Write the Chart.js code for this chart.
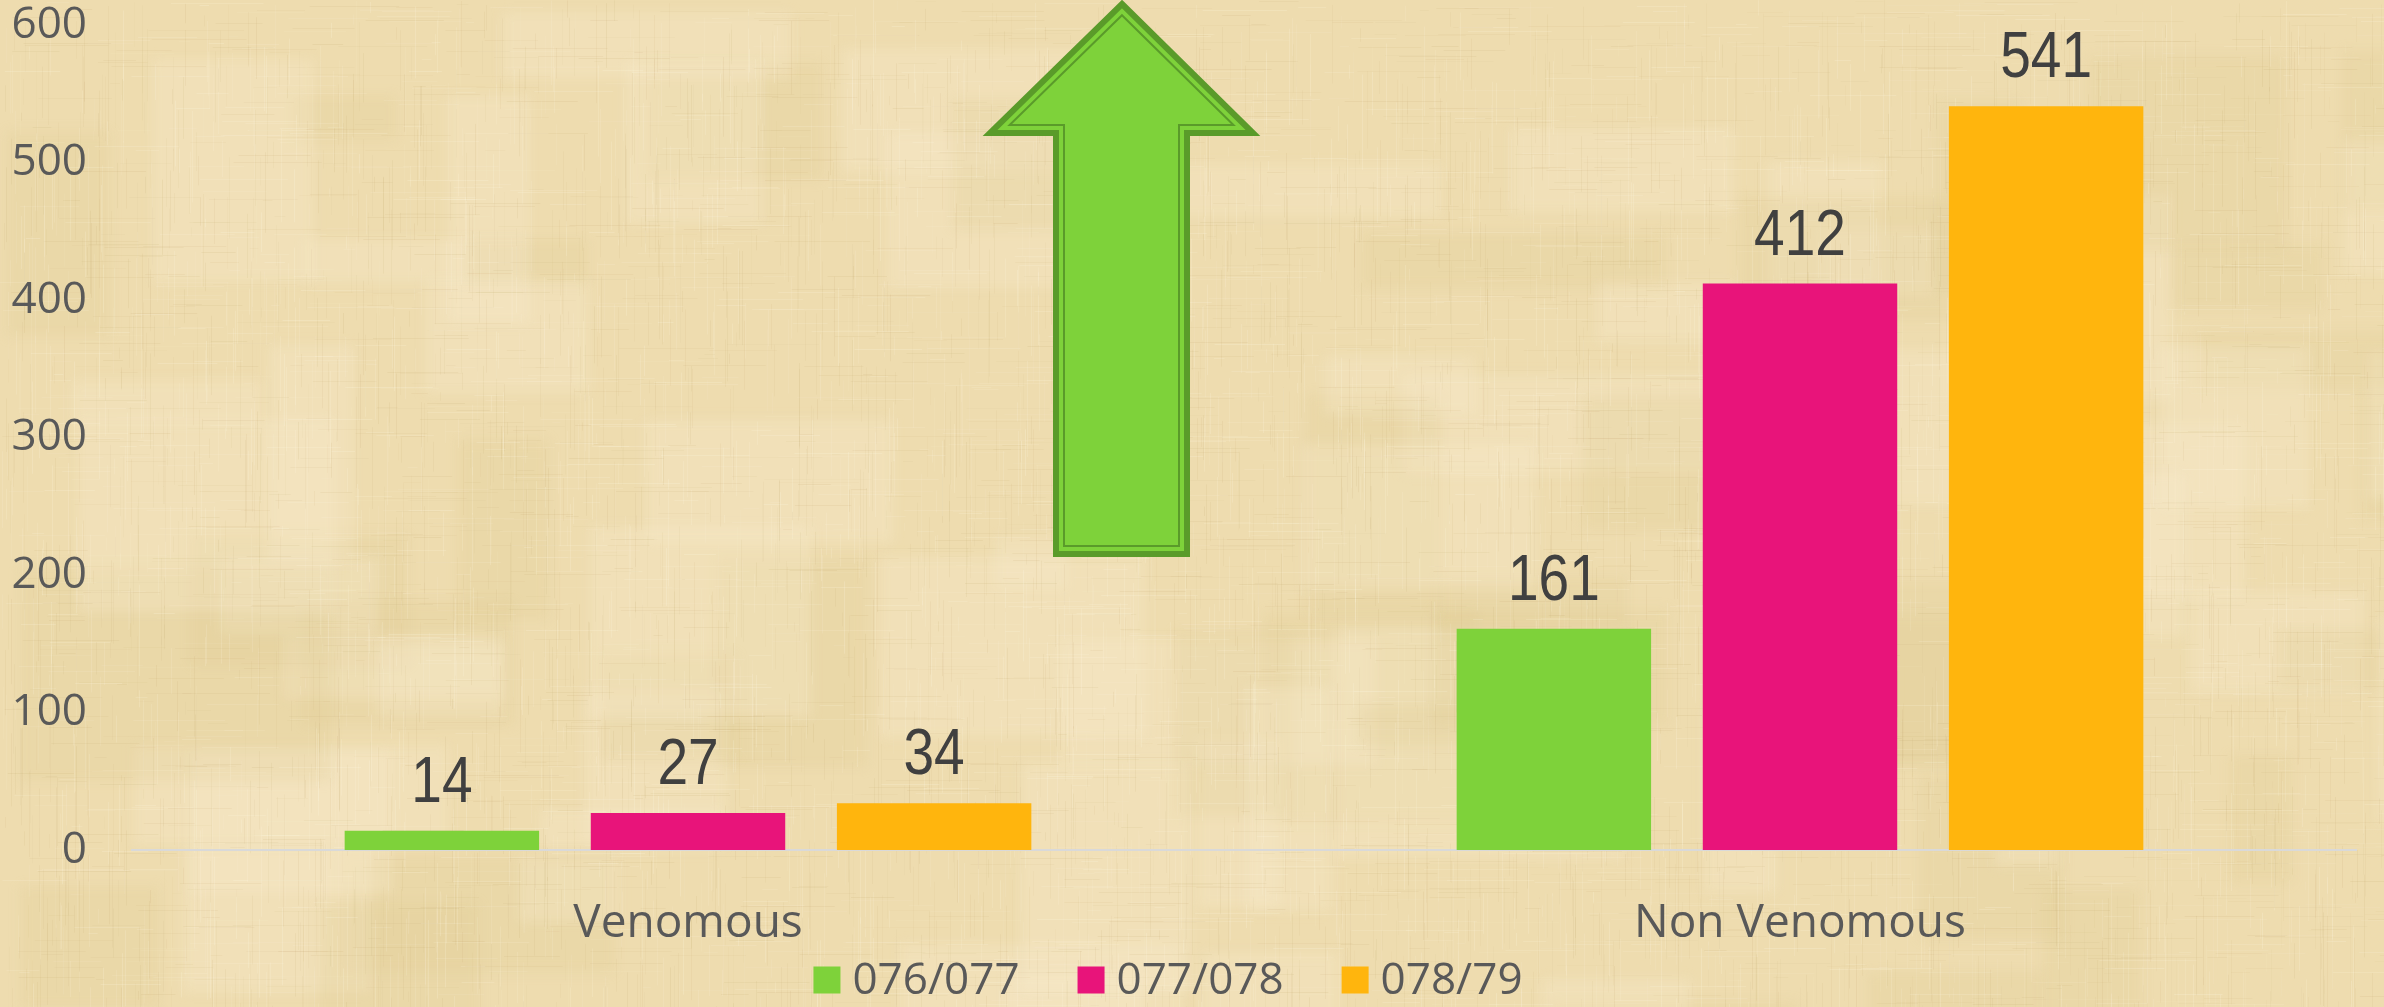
<!DOCTYPE html>
<html>
<head>
<meta charset="utf-8">
<title>Snake bite cases</title>
<script src="https://cdn.jsdelivr.net/npm/chart.js@4.4.1/dist/chart.umd.min.js"></script>
<style>
  html, body { margin: 0; padding: 0; background: #eddbae; }
  #wrap { width: 2384px; height: 1007px; }
</style>
</head>
<body>
<div id="wrap"><canvas id="chart" width="2384" height="1007"></canvas></div>
<script>
const categories = ['Venomous', 'Non Venomous'];
const seasons = ['076/077', '077/078', '078/79'];
const cases076 = [14, 161];
const cases077 = [27, 412];
const cases078 = [34, 541];
const seasonColors = ['#7ed23a', '#e8147a', '#ffb50d'];
const yTicks = [0, 100, 200, 300, 400, 500, 600];

const axisFont = "'Open Sans', 'Noto Sans', sans-serif";
const labelFont = "'Liberation Sans', sans-serif";

// papyrus-like backdrop, generated once with a seeded generator
function mulberry32(a) {
    return function() {
        a |= 0; a = a + 0x6D2B79F5 | 0;
        let t = Math.imul(a ^ a >>> 15, 1 | a);
        t = t + Math.imul(t ^ t >>> 7, 61 | t) ^ t;
        return ((t ^ t >>> 14) >>> 0) / 4294967296;
    };
}

function makePaper(w, h) {
    const c = document.createElement('canvas');
    c.width = w; c.height = h;
    const g = c.getContext('2d');
    const rnd = mulberry32(11);
    g.fillStyle = '#eedcaf';
    g.fillRect(0, 0, w, h);

    // soft tile-like patches
    g.filter = 'blur(6px)';
    for (let i = 0; i < 90; i++) {
        const light = rnd() < 0.5;
        g.fillStyle = light ? 'rgba(247,236,206,0.30)' : 'rgba(222,198,140,0.20)';
        g.fillRect(rnd() * w, rnd() * h, 60 + rnd() * 260, 40 + rnd() * 200);
    }
    g.filter = 'none';

    // fine fibres, mostly vertical
    for (let i = 0; i < 9000; i++) {
        const x = rnd() * w, y = rnd() * h;
        const len = 8 + rnd() * 90;
        const dark = rnd() < 0.5;
        g.strokeStyle = dark
            ? 'rgba(185,155,95,' + (0.03 + rnd() * 0.08).toFixed(3) + ')'
            : 'rgba(255,248,228,' + (0.05 + rnd() * 0.15).toFixed(3) + ')';
        g.lineWidth = 1;
        g.beginPath();
        if (rnd() < 0.6) {
            g.moveTo(Math.round(x) + 0.5, y); g.lineTo(Math.round(x) + 0.5, y + len);
        } else {
            g.moveTo(x, Math.round(y) + 0.5); g.lineTo(x + len, Math.round(y) + 0.5);
        }
        g.stroke();
    }
    return c;
}

let paper = null;
const paperBackground = {
    id: 'paperBackground',
    beforeDraw(chart) {
        if (!paper) paper = makePaper(chart.width, chart.height);
        chart.ctx.drawImage(paper, 0, 0);
    }
};

// inward offset of a polygon (miter joins)
function insetPolygon(pts, d) {
    let area = 0;
    for (let i = 0; i < pts.length; i++) {
        const a = pts[i], b = pts[(i + 1) % pts.length];
        area += a[0] * b[1] - b[0] * a[1];
    }
    const s = area > 0 ? 1 : -1;
    const lines = pts.map((a, i) => {
        const b = pts[(i + 1) % pts.length];
        const dx = b[0] - a[0], dy = b[1] - a[1];
        const L = Math.hypot(dx, dy);
        const nx = -dy / L * s, ny = dx / L * s;
        return [[a[0] + nx * d, a[1] + ny * d], [dx, dy]];
    });
    return lines.map((l2, i) => {
        const l1 = lines[(i - 1 + lines.length) % lines.length];
        const [p, r] = l1, [q, t] = l2;
        const cross = r[0] * t[1] - r[1] * t[0];
        const u = ((q[0] - p[0]) * t[1] - (q[1] - p[1]) * t[0]) / cross;
        return [p[0] + r[0] * u, p[1] + r[1] * u];
    });
}

function tracePolygon(ctx, pts) {
    ctx.beginPath();
    pts.forEach((p, i) => i ? ctx.lineTo(p[0], p[1]) : ctx.moveTo(p[0], p[1]));
    ctx.closePath();
}

// the big green "up" arrow between the two groups
const upArrow = {
    id: 'upArrow',
    afterDraw(chart) {
        const ctx = chart.ctx;
        const pts = [
            [1122, 4], [1253, 133], [1187, 133], [1187, 554],
            [1056, 554], [1056, 133], [990, 133]
        ];
        ctx.save();
        ctx.lineJoin = 'miter';
        tracePolygon(ctx, pts);
        ctx.fillStyle = '#7ed23a';
        ctx.fill();
        ctx.strokeStyle = '#5a9b2a';
        ctx.lineWidth = 6;
        ctx.stroke();
        tracePolygon(ctx, insetPolygon(pts, 8));
        ctx.lineWidth = 2;
        ctx.stroke();
        ctx.restore();
    }
};

// value above each bar, drawn a little condensed
const valueLabels = {
    id: 'valueLabels',
    afterDatasetsDraw(chart) {
        const ctx = chart.ctx;
        ctx.save();
        ctx.font = '64px ' + labelFont;
        ctx.fillStyle = '#404040';
        ctx.textAlign = 'center';
        ctx.textBaseline = 'alphabetic';
        chart.data.datasets.forEach((ds, i) => {
            chart.getDatasetMeta(i).data.forEach((bar, j) => {
                ctx.save();
                ctx.translate(bar.x, bar.y - 29);
                ctx.scale(0.86, 1);
                ctx.fillText(String(ds.data[j]), 0, 0);
                ctx.restore();
            });
        });
        ctx.restore();
    }
};

// legend row under the category labels
const seasonLegend = {
    id: 'seasonLegend',
    afterDraw(chart) {
        const ctx = chart.ctx;
        const box = 27, gap = 12, spacing = 58;
        ctx.save();
        ctx.font = '44px ' + axisFont;
        ctx.textBaseline = 'middle';
        const items = chart.data.datasets.map(ds => ({
            text: ds.label, color: ds.backgroundColor,
            w: box + gap + ctx.measureText(ds.label).width
        }));
        const total = items.reduce((s, it) => s + it.w, 0) + spacing * (items.length - 1);
        let x = 1168 - total / 2;
        const cy = 980;
        items.forEach(it => {
            ctx.fillStyle = it.color;
            ctx.fillRect(x, cy - box / 2, box, box);
            ctx.fillStyle = '#595959';
            ctx.fillText(it.text, x + box + gap, cy + 1);
            x += it.w + spacing;
        });
        ctx.restore();
    }
};

const data = {
    labels: categories,
    datasets: [cases076, cases077, cases078].map((values, i) => ({
        label: seasons[i],
        data: values,
        backgroundColor: seasonColors[i],
        borderWidth: 0,
        barPercentage: 0.79,
        categoryPercentage: 0.664
    }))
};

const config = {
    type: 'bar',
    data: data,
    options: {
        responsive: false,
        animation: false,
        layout: { padding: { top: 25, right: 28, left: 0, bottom: 0 } },
        plugins: {
            legend: { display: false },
            tooltip: { enabled: false }
        },
        scales: {
            x: {
                grid: { display: false },
                border: { display: true, color: '#d9d9d9', width: 2 },
                ticks: {
                    color: '#595959',
                    font: { family: axisFont, size: 46 },
                    padding: 38
                },
                afterFit(scale) { scale.height = 157; }
            },
            y: {
                min: 0,
                max: 600,
                grid: { display: false },
                border: { display: false },
                afterBuildTicks(scale) { scale.ticks = yTicks.map(v => ({ value: v })); },
                ticks: {
                    color: '#595959',
                    font: { family: axisFont, size: 44 },
                    padding: 37
                },
                afterFit(scale) {
                    scale.width = 132;
                    scale.paddingTop = 0;
                    scale.paddingBottom = 0;
                }
            }
        }
    },
    plugins: [paperBackground, valueLabels, upArrow, seasonLegend]
};

const ctx = document.getElementById('chart').getContext('2d');
const snakeChart = new Chart(ctx, config);
</script>
</body>
</html>
